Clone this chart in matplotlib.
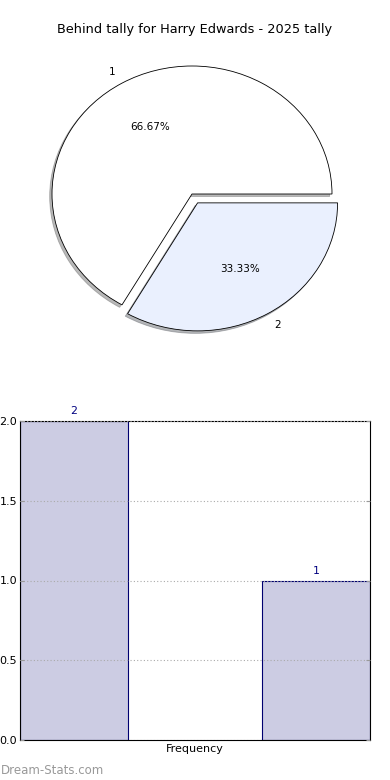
import matplotlib
matplotlib.use("Agg")
import matplotlib.pyplot as plt

title = "Behind tally for Harry Edwards - 2025 tally"
pie_labels = ["1", "2"]
pie_values = [2, 1]
bar_categories = ["2", "1"]
bar_values = [2, 1]
xtick_label = "Frequency"
yticks = [0.0, 0.5, 1.0, 1.5, 2.0]

fig = plt.figure(figsize=(3.9, 7.8), dpi=100)

# Pie
axp = fig.add_axes([17/390, 1 - 354/780, 350/390, 320/780])
wedges, texts, autotexts = axp.pie(
    pie_values, labels=pie_labels, colors=["#ffffff", "#eaf0fe"],
    explode=[0, 0.08], autopct="%.2f%%",
    shadow={"ox": -0.012, "oy": -0.014, "shade": 0.55},
    startangle=0, counterclock=True,
    wedgeprops=dict(edgecolor="black", linewidth=0.6),
    textprops=dict(fontsize=7.5))
axp.set_aspect("auto")
axp.set_xlim(-1.25, 1.25)
axp.set_ylim(-1.25, 1.25)
axp.axis("off")
fig.text(0.5, 1 - 30/780, title, ha="center", va="center", fontsize=9.3)

# Bars
axb = fig.add_axes([20/390, 40/780, 350/390, 319/780])
w = 0.445
xs = [0, 1]
bars = axb.bar(xs, bar_values, width=w, color="#ccccE3", edgecolor="#000070",
               linewidth=0.8, zorder=1)
for x, v, lab in zip(xs, bar_values, bar_categories):
    axb.text(x, v + 0.03, lab, ha="center", va="bottom", color="#000080", fontsize=7.8)
axb.set_xlim(-w/2, 1 + w/2)
axb.set_ylim(0, 2.0)
axb.set_yticks(yticks)
axb.set_yticklabels([f"{t:.1f}" for t in yticks], fontsize=8)
axb.set_xticks([0.5])
axb.set_xticklabels([xtick_label], fontsize=8)
axb.tick_params(axis="x", length=0, pad=3)
axb.tick_params(axis="y", length=3, color="#999999", direction="in", right=True, pad=2)
axb.grid(axis="y", linestyle=(0, (1, 2)), color="#aaaaaa", linewidth=0.8)
axb.set_axisbelow(False)
for s in axb.spines.values():
    s.set_linewidth(0.8)

fig.text(1/390, 1 - 770/780, "Dream-Stats.com", ha="left", va="center",
         fontsize=8.5, color="#999999", fontweight="medium")

fig.savefig("out.png", dpi=100)
